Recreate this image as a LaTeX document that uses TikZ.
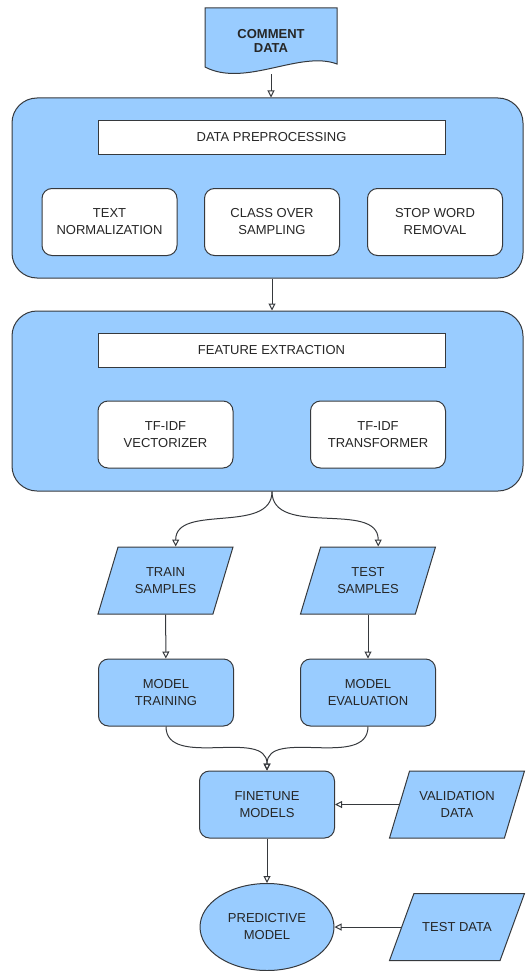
\documentclass[tikz,border=0pt]{standalone}
\usepackage{fontspec}
\setmainfont{Liberation Sans}
\usetikzlibrary{shapes.geometric,arrows.meta}

\definecolor{boxblue}{HTML}{99CCFF}
\definecolor{linegrey}{HTML}{36393D}

\tikzset{
  every node/.style={font=\fontsize{13}{17}\selectfont, text=black!85, align=center},
  stage/.style={draw=linegrey, fill=boxblue, line width=1pt, rounded corners=25pt, minimum width=511pt, minimum height=180pt},
  stagetitle/.style={draw=linegrey, fill=white, line width=1pt, minimum width=347pt, minimum height=34pt},
  substep/.style={draw=linegrey, fill=white, line width=1pt, rounded corners=10pt, minimum width=135pt, minimum height=67pt},
  process/.style={substep, fill=boxblue},
  inout/.style={trapezium, trapezium left angle=#1, trapezium right angle=180-#1, trapezium stretches body, draw=linegrey, fill=boxblue, line width=1pt, minimum width=135pt, minimum height=67pt},
  inout/.default=58.5,
  flow/.style={draw=linegrey, line width=1pt, -{Triangle[open, length=7pt, width=7pt]}},
}

\begin{document}
\begin{tikzpicture}[x=1pt, y=-1pt]

    \useasboundingbox (0, 0) rectangle (525, 971);

    \path[draw=linegrey, fill=boxblue, line width=1pt] (205, 8) -- (337, 8) -- (337, 64)
        .. controls (300, 50) and (245, 88) .. (205, 67) -- cycle;
    \node[font=\fontsize{13}{14}\selectfont\bfseries, minimum width=132pt, minimum height=66pt] (cdata) at (271, 41) {COMMENT\\DATA};

    \node[stage] (pre) at (267.5, 188) {};
    \node[stagetitle] (pretitle) at (271.5, 137.5) {DATA PREPROCESSING};
    \node[substep] (textnorm) at (109.5, 222) {TEXT\\NORMALIZATION};
    \node[substep] (oversamp) at (272, 222) {CLASS OVER\\SAMPLING};
    \node[substep] (stopword) at (435, 222) {STOP WORD\\REMOVAL};

    \node[stage] (feat) at (267.5, 401) {};
    \node[stagetitle] (feattitle) at (271.5, 350) {FEATURE EXTRACTION};
    \node[substep] (vect) at (165.5, 434.5) {TF-IDF\\VECTORIZER};
    \node[substep] (transf) at (378, 434.5) {TF-IDF\\TRANSFORMER};

    \path[flow] (cdata.south) -- (cdata.south |- pre.north);
    \path[flow] ([xshift=1pt]cdata.south |- pre.south) -- ([xshift=1pt]cdata.south |- feat.north);

    %samples

    \node[inout] (train) at (165.5, 580.5) {TRAIN\\SAMPLES};
    \node[inout] (test) at (368, 580.5) {TEST\\SAMPLES};

    \path[flow] ([xshift=1pt]cdata.south |- feat.south) to[out=-90, in=90] (train.top side);
    \path[flow] ([xshift=1pt]cdata.south |- feat.south) to[out=-90, in=90] (test.top side);

    \node[process] (mtrain) at (166, 692.5) {MODEL\\TRAINING};
    \node[process] (meval) at (368, 692.5) {MODEL\\EVALUATION};

    \path[flow] (train) -- (mtrain);
    \path[flow] (test) -- (meval);

    %models

    \node[process] (finetune) at (267, 804.5) {FINETUNE\\MODELS};
    \node[inout] (valdata) at (457, 804.5) {VALIDATION\\DATA};

    \path[flow] (mtrain.south) to[out=-90, in=90] (finetune.north);
    \path[flow] (meval.south) to[out=-90, in=90] (finetune.north);
    \path[flow] (valdata.left side) -- (finetune.east);

    \node[ellipse, draw=linegrey, fill=boxblue, line width=1pt, minimum width=134pt, minimum height=87pt] (predict) at (267, 927) {PREDICTIVE\\MODEL};
    \node[inout=33] (testdata) at (457, 927) {TEST DATA};

    \path[flow] (finetune) -- (predict);
    \path[flow] (testdata.left side) -- (predict.east);

\end{tikzpicture}
\end{document}
